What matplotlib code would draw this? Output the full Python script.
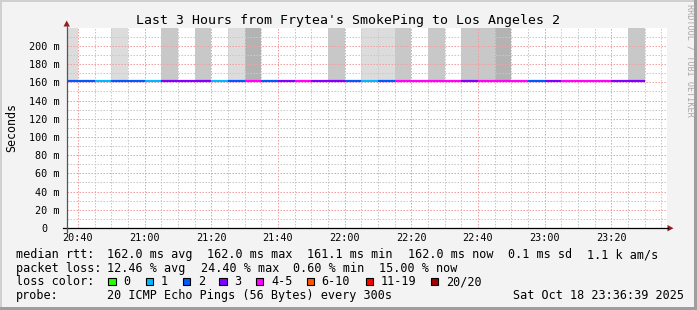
import matplotlib
matplotlib.use("Agg")
import matplotlib.pyplot as plt
from matplotlib.patches import Rectangle, Polygon
from matplotlib.lines import Line2D
from matplotlib.ticker import FixedLocator
import matplotlib.transforms as mtransforms

# ---------------- data ----------------
title = "Last 3 Hours from Frytea's SmokePing to Los Angeles 2"
y_label = "Seconds"
watermark = "RRDTOOL / TOBI OETIKER"

graph_start = "20:36:39"
graph_end = "23:36:39"
step_minutes = 5

interval_start = ["20:35", "20:40", "20:45", "20:50", "20:55",
                  "21:00", "21:05", "21:10", "21:15", "21:20", "21:25",
                  "21:30", "21:35", "21:40", "21:45", "21:50", "21:55",
                  "22:00", "22:05", "22:10", "22:15", "22:20", "22:25",
                  "22:30", "22:35", "22:40", "22:45", "22:50", "22:55",
                  "23:00", "23:05", "23:10", "23:15", "23:20", "23:25"]
median_ms = [162.0, 162.0, 162.0, 162.0, 162.0,
             162.0, 162.0, 161.1, 162.0, 162.0, 162.0,
             162.0, 162.0, 162.0, 162.0, 162.0, 162.0,
             162.0, 162.0, 162.0, 162.0, 162.0, 162.0,
             162.0, 162.0, 162.0, 162.0, 162.0, 162.0,
             162.0, 162.0, 162.0, 162.0, 162.0, 162.0]
loss_count = [2, 2, 1, 2, 2,
              1, 3, 3, 3, 1, 2,
              4, 2, 3, 4, 3, 3,
              2, 1, 2, 5, 4, 4,
              4, 3, 4, 5, 4, 2,
              3, 4, 4, 4, 3, 3]

smoke_start = ["20:35", "20:50", "21:05", "21:15", "21:25", "21:30", "21:55",
               "22:05", "22:10", "22:15", "22:25", "22:35", "22:40", "22:45",
               "23:25"]
smoke_shade = ["light", "light", "medium", "medium", "light", "dark", "medium",
               "light", "light", "medium", "medium", "medium", "medium", "dark",
               "medium"]
smoke_low_ms = [162.0, 162.0, 162.0, 162.0, 162.0, 162.0, 162.0,
                162.0, 162.0, 162.0, 162.0, 162.0, 162.0, 162.0,
                162.0]
smoke_high_ms = [240.0, 240.0, 240.0, 240.0, 240.0, 240.0, 240.0,
                 240.0, 240.0, 240.0, 240.0, 240.0, 240.0, 240.0,
                 240.0]

x_tick_labels = ["20:40", "21:00", "21:20", "21:40", "22:00",
                 "22:20", "22:40", "23:00", "23:20"]
y_tick_values = [0, 20, 40, 60, 80, 100, 120, 140, 160, 180, 200]
y_tick_labels = ["0", "20 m", "40 m", "60 m", "80 m", "100 m", "120 m",
                 "140 m", "160 m", "180 m", "200 m"]
y_max = 220

loss_labels = ["0", "1", "2", "3", "4-5", "6-10", "11-19", "20/20"]
loss_upper = [0, 1, 2, 3, 5, 10, 19, 20]
loss_colors = ["#26ff00", "#00b8ff", "#0059ff", "#7e00ff", "#ff00ff",
               "#ff5500", "#ff0000", "#a10000"]

rtt_items = ["162.0 ms avg", "162.0 ms max", "161.1 ms min",
             "162.0 ms now", "0.1 ms sd", "1.1 k am/s"]
loss_items = ["12.46 % avg", "24.40 % max", "0.60 % min", "15.00 % now"]
probe_text = "20 ICMP Echo Pings (56 Bytes) every 300s"
date_text = "Sat Oct 18 23:36:39 2025"

shade_colors = {"light": "#dcdcdc", "medium": "#c8c8c8", "dark": "#b3b3b3"}

# ---------------- helpers ----------------
def to_min(s):
    parts = [float(p) for p in s.split(":")]
    v = parts[0] * 60 + parts[1]
    if len(parts) > 2:
        v += parts[2] / 60.0
    return v

def color_for_loss(n):
    for up, c in zip(loss_upper, loss_colors):
        if n <= up:
            return c
    return loss_colors[-1]

W, H, DPI = 697, 310, 100
def fx(px):
    return px / W
def fy(py):
    return 1 - py / H

MONO = "DejaVu Sans Mono"
plt.rcParams["font.family"] = [MONO]

fig = plt.figure(figsize=(W / DPI, H / DPI), dpi=DPI, facecolor="#f3f3f3")

# frame of the image
fig.add_artist(Rectangle((0, fy(2)), 1, 2 / H, transform=fig.transFigure, color="#d0d0d0", lw=0))
fig.add_artist(Rectangle((0, 0), fx(2), 1, transform=fig.transFigure, color="#d0d0d0", lw=0))
fig.add_artist(Rectangle((fx(W - 3), 0), 3 / W, 1, transform=fig.transFigure, color="#9e9e9e", lw=0))
fig.add_artist(Rectangle((0, 0), 1, 3 / H, transform=fig.transFigure, color="#9e9e9e", lw=0))

left_px, right_px, top_px, bottom_px = 66.7, 666.7, 27.7, 228.0
ax = fig.add_axes([fx(left_px), fy(bottom_px), (right_px - left_px) / W, (bottom_px - top_px) / H])
ax.set_facecolor("white")
x0, x1 = to_min(graph_start), to_min(graph_end)
ax.set_xlim(x0, x1)
ax.set_ylim(0, y_max)
for sp in ax.spines.values():
    sp.set_visible(False)

# grid
x_major = [to_min(s) for s in x_tick_labels]
x_minor = [m for m in range(int(x0) + 1, int(x1) + 1) if m % step_minutes == 0 and m not in x_major]
y_minor = [v for v in range(10, y_max, 10) if v % 20 != 0]
y_major = [v for v in y_tick_values if v != 0]
ax.xaxis.set_major_locator(FixedLocator(x_major))
ax.xaxis.set_minor_locator(FixedLocator(x_minor))
ax.yaxis.set_major_locator(FixedLocator(y_major))
ax.yaxis.set_minor_locator(FixedLocator(y_minor))
ax.tick_params(which="both", length=0, labelbottom=False, labelleft=False)
ax.grid(which="minor", color="#c9c9c9", lw=0.72, linestyle=(0, (1.5, 1.5)), zorder=1.5)
ax.grid(which="major", color="#f0a0a0", lw=0.72, linestyle=(0, (1.5, 1.5)), zorder=1.6)
ax.set_axisbelow(False)
for gl in ax.get_xgridlines() + ax.get_ygridlines():
    gl.set_zorder(1.5)

# smoke
for s, shade, lo, hi in zip(smoke_start, smoke_shade, smoke_low_ms, smoke_high_ms):
    ax.bar(to_min(s), hi - lo, bottom=lo, width=step_minutes, align="edge",
           color=shade_colors[shade], lw=0, zorder=1)

# median line, colored by loss
for s, m, n in zip(interval_start, median_ms, loss_count):
    t = to_min(s)
    ax.plot([t, t + step_minutes], [m, m], color=color_for_loss(n), lw=1.6,
            solid_capstyle="butt", zorder=3)

# axes lines + arrows
fig.add_artist(Line2D([fx(62.5), fx(668)], [fy(228.2), fy(228.2)], transform=fig.transFigure, color="black", lw=0.9))
fig.add_artist(Line2D([fx(66.7), fx(66.7)], [fy(231.5), fy(25)], transform=fig.transFigure, color="#555555", lw=0.9))
fig.add_artist(Polygon([(fx(667.5), fy(225)), (fx(667.5), fy(231.4)), (fx(673.5), fy(228.2))],
                       closed=True, transform=fig.transFigure, color="#9a1a1a", lw=0))
fig.add_artist(Polygon([(fx(63.5), fy(26.5)), (fx(69.9), fy(26.5)), (fx(66.7), fy(20.5))],
                       closed=True, transform=fig.transFigure, color="#9a1a1a", lw=0))

# tick labels
ylab_tr = mtransforms.blended_transform_factory(ax.transAxes, ax.transData) + \
    mtransforms.ScaledTranslation(0, -4.0 / DPI, fig.dpi_scale_trans)
for v, lab in zip(y_tick_values, y_tick_labels):
    xr = (59.8 - left_px) / (right_px - left_px) if lab != "0" else (47.2 - left_px) / (right_px - left_px)
    ax.text(xr, v, lab, transform=ylab_tr, ha="right", va="baseline", fontsize=7.3, family=MONO, clip_on=False)
xlab_tr = mtransforms.blended_transform_factory(ax.transData, fig.transFigure)
for lab in x_tick_labels:
    ax.text(to_min(lab), fy(240.7), lab, transform=xlab_tr, ha="center", va="baseline",
            fontsize=7.3, family=MONO, clip_on=False)

# title, y label, watermark
fig.text(0.5, fy(24.0), title, ha="center", va="baseline", fontsize=9.55, family=MONO)
fig.text(fx(11.5), fy(128), y_label, rotation=90, ha="center", va="center", fontsize=8.4, family=MONO)
fig.text(fx(690), fy(4), watermark, rotation=270, ha="center", va="top", fontsize=6.1,
         family=MONO, color="#a8a8a8")

# legend text
LF = 8.44
fig.text(fx(16), fy(258.3), "median rtt:", ha="left", va="baseline", fontsize=LF, family=MONO)
for xp, s in zip([107.3, 207.3, 307.3, 407.7, 507.7, 586.7], rtt_items):
    fig.text(fx(xp), fy(258.3), s, ha="left", va="baseline", fontsize=LF, family=MONO)
fig.text(fx(16), fy(271.8), "packet loss:", ha="left", va="baseline", fontsize=LF, family=MONO)
for xp, s in zip([107.3, 200.7, 293.3, 379.0], loss_items):
    fig.text(fx(xp), fy(271.8), s, ha="left", va="baseline", fontsize=LF, family=MONO)
fig.text(fx(16), fy(285.4), "loss color:", ha="left", va="baseline", fontsize=LF, family=MONO)
box_x = [108.3, 145.7, 182.7, 219.3, 256.0, 306.7, 365.7, 430.7]
for bx, lab, col in zip(box_x, loss_labels, loss_colors):
    fig.add_artist(Rectangle((fx(bx), fy(285.2)), 7.4 / W, 7.6 / H, transform=fig.transFigure,
                             facecolor=col, edgecolor="black", lw=0.8))
    fig.text(fx(bx + 15), fy(285.4), lab, ha="left", va="baseline", fontsize=LF, family=MONO)
fig.text(fx(16), fy(299.2), "probe:", ha="left", va="baseline", fontsize=LF, family=MONO)
fig.text(fx(107.3), fy(299.2), probe_text, ha="left", va="baseline", fontsize=LF, family=MONO)
fig.text(fx(513.3), fy(299.2), date_text, ha="left", va="baseline", fontsize=LF, family=MONO)

fig.savefig("out.png", dpi=DPI, facecolor=fig.get_facecolor())
